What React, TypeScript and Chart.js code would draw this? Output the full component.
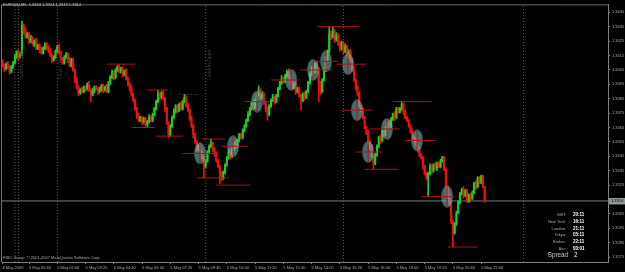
import React, { useEffect, useRef } from 'react';
import { Chart, registerables } from 'chart.js';

Chart.register(...registerables);

// ---- data (prices are in pips above 1.3000) ----
const symbol = 'EURUSD,M5';
const priceBase = 1.3;
const firstOpen = 410;
const closes = [
  408, 406, 409, 407, 404, 407, 410, 414, 418, 414,
  416, 436, 432, 428, 430, 425, 427, 423, 425, 420,
  422, 419, 417, 420, 423, 421, 418, 415, 412, 414,
  418, 421, 417, 413, 410, 414, 416, 412, 408, 412,
  405, 398, 393, 389, 391, 390, 393, 392, 395, 391,
  388, 390, 393, 392, 390, 391, 394, 391, 393, 390,
  396, 400, 403, 400, 405, 407, 404, 406, 402, 404,
  399, 395, 392, 388, 384, 378, 373, 370, 372, 369,
  371, 367, 369, 372, 370, 374, 378, 383, 388, 386,
  389, 385, 378, 368, 360, 366, 372, 376, 380, 377,
  381, 378, 383, 386, 381, 377, 371, 366, 360, 355,
  350, 352, 348, 344, 338, 342, 348, 352, 354, 350,
  346, 342, 338, 333, 330, 334, 339, 344, 348, 345,
  350, 354, 352, 356, 360, 358, 363, 366, 370, 374,
  378, 382, 379, 384, 388, 391, 386, 388, 382, 378,
  374, 380, 384, 386, 383, 387, 392, 396, 399, 397,
  401, 404, 400, 397, 393, 395, 390, 392, 387, 384,
  388, 386, 390, 396, 402, 406, 404, 409, 406, 396,
  390, 398, 405, 412, 418, 430, 428, 432, 426, 429,
  423, 420, 424, 418, 421, 415, 418, 412, 405, 398,
  393, 388, 380, 378, 372, 365, 361, 355, 352, 345,
  340, 346, 352, 358, 356, 362, 360, 365, 368, 366,
  371, 374, 372, 378, 376, 378, 381, 376, 372, 370,
  366, 362, 358, 357, 353, 349, 346, 344, 338, 333,
  330, 333, 338, 335, 339, 337, 340, 338, 342, 344,
  336, 324, 318, 312, 300, 292, 298, 306, 313, 319,
  322, 318, 321, 314, 318, 316, 320, 326, 324, 330,
  327, 331, 324, 314,
];
const upWicks = [
  2, 1, 1, 2, 1, 1, 1, 2, 0, 1,
  1, 3, 1, 2, 1, 1, 2, 1, 1, 2,
  1, 1, 2, 1, 1, 1, 1, 2, 1, 1,
  1, 1, 2, 1, 1, 1, 1, 1, 2, 1,
  1, 1, 2, 1, 1, 2, 1, 1, 1, 2,
  1, 2, 1, 1, 1, 2, 1, 1, 1, 2,
  1, 1, 2, 1, 1, 1, 2, 1, 1, 1,
  2, 1, 1, 2, 1, 1, 1, 2, 1, 1,
  1, 1, 1, 2, 1, 1, 1, 1, 3, 1,
  1, 2, 1, 1, 1, 1, 1, 2, 1, 1,
  1, 2, 1, 2, 1, 1, 1, 2, 1, 1,
  1, 1, 2, 1, 1, 1, 1, 1, 3, 1,
  1, 2, 1, 1, 1, 1, 1, 1, 2, 1,
  1, 1, 2, 1, 1, 1, 1, 1, 1, 2,
  1, 1, 2, 1, 1, 3, 1, 2, 1, 1,
  1, 1, 1, 2, 1, 1, 1, 1, 2, 1,
  1, 1, 2, 1, 1, 1, 2, 1, 1, 1,
  1, 2, 1, 1, 1, 1, 2, 1, 2, 1,
  1, 1, 1, 2, 1, 5, 2, 3, 1, 2,
  1, 2, 1, 1, 2, 1, 1, 1, 1, 2,
  1, 1, 2, 1, 1, 1, 1, 2, 1, 1,
  1, 1, 1, 1, 2, 1, 1, 1, 1, 2,
  1, 1, 2, 1, 1, 1, 2, 1, 1, 1,
  1, 1, 2, 1, 1, 1, 2, 1, 1, 1,
  1, 1, 2, 1, 1, 2, 1, 1, 1, 1,
  1, 1, 1, 1, 1, 1, 1, 1, 1, 1,
  1, 2, 1, 1, 1, 1, 1, 1, 2, 1,
  1, 1, 1, 0,
];
const downWicks = [
  1, 2, 1, 1, 2, 1, 1, 1, 1, 2,
  1, 1, 2, 1, 1, 2, 1, 1, 2, 1,
  1, 2, 1, 1, 1, 2, 1, 1, 2, 1,
  1, 1, 1, 2, 1, 1, 1, 2, 1, 1,
  1, 2, 1, 2, 1, 1, 1, 2, 1, 1,
  5, 1, 1, 1, 2, 1, 1, 2, 1, 1,
  1, 1, 1, 2, 1, 1, 1, 1, 2, 1,
  1, 1, 2, 1, 1, 1, 2, 1, 1, 2,
  1, 1, 2, 1, 1, 1, 1, 1, 1, 2,
  1, 1, 2, 1, 2, 1, 1, 1, 1, 2,
  1, 1, 1, 1, 2, 1, 1, 1, 2, 1,
  2, 1, 1, 1, 8, 1, 1, 1, 1, 2,
  1, 1, 1, 7, 2, 1, 1, 1, 1, 2,
  1, 1, 2, 1, 1, 1, 1, 1, 1, 1,
  1, 1, 2, 1, 1, 1, 2, 1, 1, 2,
  4, 1, 1, 1, 2, 1, 1, 1, 1, 1,
  1, 1, 1, 2, 1, 1, 2, 1, 1, 7,
  1, 2, 1, 1, 1, 1, 2, 1, 1, 13,
  2, 1, 1, 1, 1, 1, 2, 1, 2, 1,
  1, 2, 1, 2, 1, 1, 2, 1, 1, 1,
  2, 1, 1, 2, 1, 1, 1, 1, 2, 1,
  4, 1, 1, 1, 2, 1, 1, 1, 1, 2,
  1, 1, 2, 1, 1, 1, 1, 2, 1, 1,
  1, 1, 1, 2, 1, 1, 1, 1, 2, 1,
  1, 13, 1, 2, 1, 1, 2, 1, 1, 1,
  1, 1, 2, 1, 2, 10, 1, 1, 1, 1,
  1, 2, 1, 1, 1, 2, 1, 1, 2, 1,
  1, 1, 1, 1,
];

// x axis: bar index of each time label
const tickBars = [0, 15, 31, 47, 63, 79, 95, 111, 127, 143, 159, 175, 191, 207, 223, 239, 255, 271];
const tickLabels = [
  '4 May 2009', '5 May 00:40', '5 May 02:00', '5 May 03:20', '5 May 04:40', '5 May 06:00',
  '5 May 07:20', '5 May 08:40', '5 May 10:00', '5 May 11:20', '5 May 12:40', '5 May 14:00',
  '5 May 15:20', '5 May 16:40', '5 May 18:00', '5 May 19:20', '5 May 20:40', '5 May 22:00',
];
const yTicks = [
  1.3275, 1.3285, 1.3295, 1.3305, 1.3315, 1.3325, 1.3335, 1.3345, 1.3355,
  1.3365, 1.3375, 1.3385, 1.3395, 1.3405, 1.3415, 1.3425, 1.3435, 1.3445,
];
const xRange = [-0.3, 342.8];
const yRange = [1.32716, 1.34505];

// horizontal levels: [fromBar, toBar, pips, dotted]
const levels = [
  [59, 75, 409, 0], [73, 86, 365, 0], [82, 94, 391, 0], [87, 102, 359, 0],
  [100, 111, 388, 1], [113, 126, 357, 0], [110, 128, 330, 0], [121, 140, 325, 0],
  [178, 202, 435, 0], [205, 224, 336, 0], [221, 243, 383, 0], [252, 269, 282, 0],
];
// marked points (ellipse + cross): [bar, pips, crossFromBar, crossToBar]
const markers = [
  [111.8, 347, 102, 121], [130.5, 352, 124, 139], [144.1, 383, 137, 151],
  [163.4, 398, 152, 168], [175.8, 405, 168.5, 186.5], [183.2, 411, 177, 190],
  [195.6, 409, 189, 206], [200.7, 377, 192, 209], [207, 348, 200, 215],
  [217.7, 364, 208, 225], [234.7, 356, 228, 245], [251.7, 317, 237, 256],
];
const crossHalfPips = 7;

// session / day separators
const sessionBars = [7, 9, 31, 115, 193, 295];
const sessionNames = ['', 'Sydney Open', 'Tokyo Open', 'London Open', '', ''];
const sessionLabelPips = 398;

const clockNames = ['GMT:', 'New York:', 'London:', 'Tokyo:', 'Broker:', 'Bar:'];
const clockTimes = ['20:11', '16:11', '21:11', '05:11', '22:11', '00:01'];
const spreadValue = '2';
const copyright = 'FIBO Group, \u00A9 2001-2007 MetaQuotes Software Corp.';

// ---- helpers ----
const toPrice = (p: number) => +(priceBase + p / 10000).toFixed(5);
const bars = closes.map((c, i) => {
  const o = i === 0 ? firstOpen : closes[i - 1];
  return { o, c, h: Math.max(o, c) + upWicks[i], l: Math.min(o, c) - downWicks[i] };
});
const last = bars[bars.length - 1];
const fmt = (p: number) => toPrice(p).toFixed(4);
const titleText = `${symbol}  ${fmt(last.o)} ${fmt(last.h)} ${fmt(last.l)} ${fmt(last.c)}`;

const GREEN = '#22cc22';
const RED = '#ee1111';
const LEVEL = '#b01414';
const FONT = 'Liberation Sans';

export default function App() {
  const ref = useRef<HTMLCanvasElement | null>(null);

  useEffect(() => {
    document.body.style.margin = '0';
    document.body.style.background = '#000';
    const canvas = ref.current;
    if (!canvas) return;

    const ell = document.createElement('canvas');
    ell.width = 12;
    ell.height = 22;
    const ectx = ell.getContext('2d')!;
    ectx.fillStyle = 'rgba(115,180,180,0.6)';
    ectx.beginPath();
    ectx.ellipse(6, 11, 5.8, 10.8, 0, 0, Math.PI * 2);
    ectx.fill();

    const colors = bars.map((b) => (b.c >= b.o ? GREEN : RED));
    const redSegs: any[] = [];
    const dottedSegs: any[] = [];
    levels.forEach(([a, b, p, d]) => {
      const arr = d ? dottedSegs : redSegs;
      arr.push({ x: a, y: toPrice(p) }, { x: b, y: toPrice(p) }, { x: b, y: null });
    });
    markers.forEach(([x, p, a, b]) => {
      redSegs.push({ x: a, y: toPrice(p) }, { x: b, y: toPrice(p) }, { x: b, y: null });
      redSegs.push({ x, y: toPrice(p - crossHalfPips) }, { x, y: toPrice(p + crossHalfPips) }, { x, y: null });
    });
    const sessSegs: any[] = [];
    sessionBars.forEach((b) => {
      sessSegs.push({ x: b, y: yRange[0] }, { x: b, y: yRange[1] }, { x: b, y: null });
    });

    const textPlugin = {
      id: 'mtText',
      beforeDraw(chart: any) {
        const c = chart.ctx;
        c.save();
        c.fillStyle = '#000';
        c.fillRect(0, 0, chart.width, chart.height);
        c.restore();
      },
      afterDraw(chart: any) {
        const c = chart.ctx;
        const xs = chart.scales.x;
        const ys = chart.scales.y;
        const area = chart.chartArea;
        c.save();
        // frame
        c.strokeStyle = '#707070';
        c.lineWidth = 1;
        c.beginPath();
        c.moveTo(area.left - 0.5, area.bottom);
        c.lineTo(area.left - 0.5, area.top + 0.5);
        c.lineTo(area.right, area.top + 0.5);
        c.stroke();
        // session labels
        c.fillStyle = '#3c3c3c';
        c.font = `5px "${FONT}"`;
        c.textBaseline = 'middle';
        c.textAlign = 'left';
        sessionBars.forEach((b, i) => {
          if (!sessionNames[i]) return;
          c.save();
          c.translate(xs.getPixelForValue(b) + 3.5, ys.getPixelForValue(toPrice(sessionLabelPips)));
          c.rotate(-Math.PI / 2);
          c.fillText(sessionNames[i], 0, 0);
          c.restore();
        });
        // title
        c.fillStyle = '#c8c8c8';
        c.font = `4px "${FONT}"`;
        c.textAlign = 'left';
        c.fillText(titleText, 3, 5);
        // copyright
        c.fillStyle = '#a8a8a8';
        c.fillText(copyright, 3, 258);
        // clocks
        const rows = [215, 221.8, 228.5, 235.2, 241.8, 248.5];
        clockNames.forEach((n, i) => {
          c.font = `4px "${FONT}"`;
          c.fillStyle = '#a8a8a8';
          c.textAlign = 'right';
          c.fillText(n, 566, rows[i]);
          c.font = `bold 4.5px "${FONT}"`;
          c.fillStyle = '#ffffff';
          c.textAlign = 'left';
          c.fillText(clockTimes[i], 573, rows[i]);
        });
        c.font = `6.3px "${FONT}"`;
        c.fillStyle = '#c8c8c8';
        c.textAlign = 'right';
        c.fillText('Spread', 568, 255);
        c.fillStyle = '#ffffff';
        c.textAlign = 'left';
        c.fillText(spreadValue, 574, 255);
        // current price box
        const py = ys.getPixelForValue(toPrice(last.c));
        c.fillStyle = '#8d9898';
        c.fillRect(area.right + 1, py - 3, 16, 6.5);
        c.fillStyle = '#000';
        c.font = `4px "${FONT}"`;
        c.textAlign = 'left';
        c.fillText(fmt(last.c), area.right + 3, py + 0.3);
        c.restore();
      },
    };

    const chart = new Chart(canvas, {
      type: 'bar',
      data: {
        datasets: [
          {
            type: 'line',
            data: sessSegs,
            borderColor: '#5a5a5a',
            borderWidth: 1,
            borderDash: [1, 2],
            pointRadius: 0,
            spanGaps: false,
            order: 9,
          } as any,
          {
            type: 'line',
            data: [
              { x: xRange[0], y: toPrice(last.c) },
              { x: xRange[1], y: toPrice(last.c) },
            ],
            borderColor: '#6f7b7b',
            borderWidth: 1,
            pointRadius: 0,
            order: 8,
          } as any,
          {
            label: 'wick',
            data: bars.map((b, i) => ({ x: i, y: [toPrice(b.l), toPrice(b.h)] })),
            backgroundColor: colors,
            barThickness: 1,
            grouped: false,
            order: 7,
          } as any,
          {
            label: 'body',
            data: bars.map((b, i) => ({ x: i, y: [toPrice(b.o), toPrice(b.c)] })),
            backgroundColor: colors,
            barThickness: 1.4,
            grouped: false,
            order: 6,
          } as any,
          {
            type: 'line',
            data: markers.map(([x, p]) => ({ x, y: toPrice(p) })),
            showLine: false,
            pointStyle: ell,
            pointRadius: 6,
            order: 4,
          } as any,
          {
            type: 'line',
            data: redSegs,
            borderColor: LEVEL,
            borderWidth: 1,
            pointRadius: 0,
            spanGaps: false,
            order: 2,
          } as any,
          {
            type: 'line',
            data: dottedSegs,
            borderColor: LEVEL,
            borderWidth: 1,
            borderDash: [1, 1],
            pointRadius: 0,
            spanGaps: false,
            order: 2,
          } as any,
        ],
      },
      options: {
        animation: false,
        responsive: false,
        events: [],
        layout: { autoPadding: false, padding: { left: 2, top: 1, right: 0, bottom: 0 } },
        plugins: { legend: { display: false }, tooltip: { enabled: false }, title: { display: false } },
        scales: {
          x: {
            type: 'linear',
            offset: false,
            min: xRange[0],
            max: xRange[1],
            afterBuildTicks: (s: any) => {
              s.ticks = tickBars.map((v) => ({ value: v }));
            },
            afterFit: (s: any) => {
              s.height = 10;
            },
            ticks: {
              autoSkip: false,
              maxRotation: 0,
              minRotation: 0,
              align: 'start',
              padding: 1,
              color: '#a8a8a8',
              font: { family: FONT, size: 4 },
              callback: (_v: any, i: number) => tickLabels[i] ?? '',
            },
            grid: { offset: false, drawOnChartArea: false, drawTicks: true, tickLength: 2, color: '#808080' },
            border: { display: true, color: '#808080' },
          },
          y: {
            type: 'linear',
            position: 'right',
            min: yRange[0],
            max: yRange[1],
            afterBuildTicks: (s: any) => {
              s.ticks = yTicks.map((v) => ({ value: v }));
            },
            afterFit: (s: any) => {
              s.width = 17;
            },
            ticks: {
              padding: 2,
              color: '#a8a8a8',
              font: { family: FONT, size: 4 },
              callback: (v: any) => Number(v).toFixed(4),
            },
            grid: { drawOnChartArea: false, drawTicks: true, tickLength: 2, color: '#808080' },
            border: { display: true, color: '#808080' },
          },
        },
      } as any,
      plugins: [textPlugin],
    });
    return () => chart.destroy();
  }, []);

  return (
    <div style={{ width: 625, height: 272, background: '#000' }}>
      <canvas ref={ref} width={625} height={272} style={{ display: 'block' }} />
    </div>
  );
}
